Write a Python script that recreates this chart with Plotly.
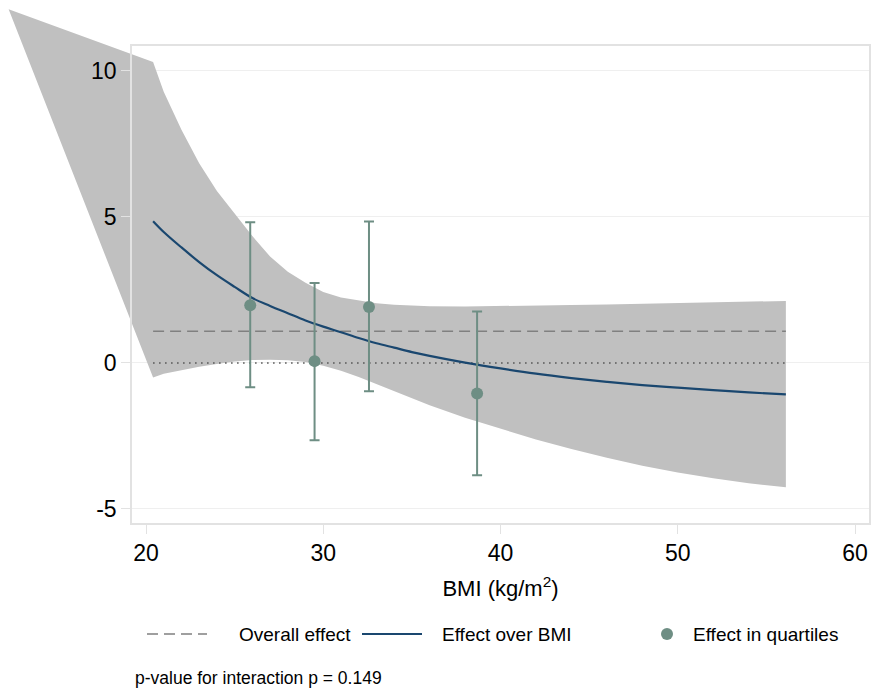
import plotly.graph_objects as go

# ---------------- data ----------------
bmi_grid = [20.4, 21, 22, 23, 24, 25, 26, 27, 28, 29, 30, 31, 32, 33, 34, 35, 36,
            38, 40, 42, 44, 46, 48, 50, 52, 54, 56.1]
ci_upper = [10.30, 9.28, 7.98, 6.83, 5.88, 5.11, 4.34, 3.64, 3.12, 2.74, 2.43, 2.24, 2.13,
            2.04, 1.99, 1.96, 1.94, 1.93, 1.94, 1.96, 1.98, 2.00, 2.03, 2.05, 2.07, 2.09, 2.12]
ci_lower = [-0.50, -0.37, -0.24, -0.13, -0.04, 0.05, 0.10, 0.11, 0.09, 0.03, -0.10, -0.27,
            -0.48, -0.72, -0.98, -1.22, -1.45, -1.88, -2.25, -2.62, -2.95, -3.25, -3.52,
            -3.75, -3.95, -4.12, -4.26]
effect_curve = [4.85, 4.48, 3.95, 3.45, 3.00, 2.60, 2.22, 1.95, 1.70, 1.45, 1.24, 1.05, 0.85,
                0.67, 0.52, 0.37, 0.24, 0.01, -0.19, -0.37, -0.52, -0.65, -0.76, -0.85,
                -0.93, -1.01, -1.08]
# stray vertex of the confidence band (drawn outside the plot region in the original)
band_spike_x = 12.25
band_spike_y = 12.1

overall_effect = 1.08

quartile_bmi = [25.88, 29.51, 32.58, 38.68]
quartile_effect = [1.97, 0.06, 1.91, -1.05]
quartile_lo = [-0.83, -2.65, -0.97, -3.85]
quartile_hi = [4.81, 2.73, 4.84, 1.76]

x_ticks = [20, 30, 40, 50, 60]
y_ticks = [-5, 0, 5, 10]
y_tick_labels = ["-5", "0", "5", "10"]
x_title = "BMI (kg/m<sup>2</sup>)"
legend_labels = ["Overall effect", "Effect over BMI", "Effect in quartiles"]
note_text = "p-value for interaction p = 0.149"

# ---------------- styling ----------------
W, H = 871, 697
FONT = "Liberation Sans, Arial, Helvetica, sans-serif"
BAND = "#c0c0c0"
NAVY = "#1a476f"
SEA = "#6e8e84"
DASHGRAY = "#808080"
FRAME = "#e2e2e2"
GRID = "#efefef"
DASH = "11px,6px"

# plot region in pixels
px_l, px_r, px_t, px_b = 132, 869, 46, 523
x_rng = [19.21, 60.79]
y_rng = [-5.48, 10.845]
xd = [px_l / W, px_r / W]
yd = [1 - px_b / H, 1 - px_t / H]

# full-figure axes aligned with the plot-region axes (lets the band spill out)
sx = (x_rng[1] - x_rng[0]) / (xd[1] - xd[0])
sy = (y_rng[1] - y_rng[0]) / (yd[1] - yd[0])
x2_rng = [x_rng[0] - xd[0] * sx, x_rng[1] + (1 - xd[1]) * sx]
y2_rng = [y_rng[0] - yd[0] * sy, y_rng[1] + (1 - yd[1]) * sy]

fig = go.Figure()

# invisible anchor trace so the grid subplot is drawn (bottom layer)
fig.add_trace(go.Scatter(x=[x_rng[0]], y=[y_rng[0]], mode="markers",
                         marker=dict(opacity=0), hoverinfo="skip", showlegend=False,
                         xaxis="x", yaxis="y"))

band_x = bmi_grid[::-1] + [band_spike_x] + bmi_grid
band_y = ci_upper[::-1] + [band_spike_y] + ci_lower
fig.add_trace(go.Scatter(x=band_x, y=band_y, fill="toself", fillcolor=BAND,
                         line=dict(width=0), mode="lines", hoverinfo="skip",
                         showlegend=False, xaxis="x2", yaxis="y2"))

fig.add_trace(go.Scatter(x=[bmi_grid[0], bmi_grid[-1]], y=[0, 0], mode="lines",
                         line=dict(color="#505050", width=1.5, dash="1.5px,4.5px"),
                         showlegend=False, xaxis="x2", yaxis="y2"))

fig.add_trace(go.Scatter(x=[bmi_grid[0], bmi_grid[-1]], y=[overall_effect, overall_effect],
                         mode="lines", line=dict(color=DASHGRAY, width=1.6, dash=DASH),
                         name=legend_labels[0], showlegend=False, xaxis="x2", yaxis="y2"))

fig.add_trace(go.Scatter(x=bmi_grid, y=effect_curve, mode="lines",
                         line=dict(color=NAVY, width=2.2, shape="spline"),
                         name=legend_labels[1], showlegend=False, xaxis="x2", yaxis="y2"))

fig.add_trace(go.Scatter(
    x=quartile_bmi, y=quartile_effect, mode="markers",
    marker=dict(color=SEA, size=12),
    error_y=dict(type="data", symmetric=False,
                 array=[h - e for h, e in zip(quartile_hi, quartile_effect)],
                 arrayminus=[e - l for e, l in zip(quartile_effect, quartile_lo)],
                 color=SEA, thickness=2, width=5),
    name=legend_labels[2], showlegend=False, xaxis="x2", yaxis="y2"))

# invisible anchor trace so the frame/tick subplot is drawn (top layer)
fig.add_trace(go.Scatter(x=[x_rng[0]], y=[y_rng[0]], mode="markers",
                         marker=dict(opacity=0), hoverinfo="skip", showlegend=False,
                         xaxis="x3", yaxis="y3"))

fig.update_layout(
    width=W, height=H, autosize=False,
    margin=dict(l=0, r=0, t=0, b=0),
    paper_bgcolor="white", plot_bgcolor="rgba(0,0,0,0)",
    font=dict(family=FONT, color="black"),
    showlegend=False,
    # layer 1: grid only
    xaxis=dict(domain=xd, range=x_rng, anchor="y", showgrid=False, showticklabels=False,
               ticks="", zeroline=False, showline=False),
    yaxis=dict(domain=yd, range=y_rng, anchor="x", tickvals=y_ticks, showgrid=True,
               gridcolor=GRID, gridwidth=1.2, showticklabels=False, ticks="",
               zeroline=False, showline=False),
    # layer 2: data
    xaxis2=dict(domain=[0, 1], range=x2_rng, anchor="y2", visible=False),
    yaxis2=dict(domain=[0, 1], range=y2_rng, anchor="x2", visible=False),
    # layer 3: frame, ticks, labels
    xaxis3=dict(domain=xd, range=x_rng, anchor="y3", tickvals=x_ticks, showgrid=False,
                zeroline=False, showline=True, mirror=True, linecolor=FRAME, linewidth=1.5,
                ticks="outside", ticklen=9, tickcolor=FRAME, tickwidth=1.2,
                tickfont=dict(size=23),
                title=dict(text=x_title, font=dict(size=22), standoff=15)),
    yaxis3=dict(domain=yd, range=y_rng, anchor="x3", tickvals=y_ticks,
                ticktext=y_tick_labels, showgrid=False,
                zeroline=False, showline=True, mirror=True, linecolor=FRAME, linewidth=1.5,
                ticks="outside", ticklen=9, tickcolor=FRAME, tickwidth=1.2,
                tickfont=dict(size=23)),
)

# manual legend (Stata-style layout) and note
def px(x):
    return x / W

def py(y):
    return 1 - y / H

leg_y = 634
shapes = [
    dict(type="line", xref="paper", yref="paper", x0=px(147), x1=px(207), y0=py(leg_y),
         y1=py(leg_y), line=dict(color=DASHGRAY, width=1.6, dash=DASH)),
    dict(type="line", xref="paper", yref="paper", x0=px(362), x1=px(422), y0=py(leg_y),
         y1=py(leg_y), line=dict(color=NAVY, width=2.2)),
    dict(type="circle", xref="paper", yref="paper", x0=px(661), x1=px(673),
         y0=py(leg_y + 6), y1=py(leg_y - 6), fillcolor=SEA, line=dict(width=0)),
]
fig.update_layout(shapes=shapes)

annotations = []
for text, xpos in zip(legend_labels, [237, 440, 691]):
    annotations.append(dict(text=text, x=px(xpos), y=py(leg_y), xref="paper", yref="paper",
                            xanchor="left", yanchor="middle", showarrow=False,
                            font=dict(size=19)))
annotations.append(dict(text=note_text, x=px(133), y=py(678), xref="paper", yref="paper",
                        xanchor="left", yanchor="middle", showarrow=False,
                        font=dict(size=17.5)))
fig.update_layout(annotations=annotations)

fig.write_html("out.html",
               config={"displayModeBar": False},
               post_script="document.body.style.margin='0px';"
                           "document.documentElement.style.overflow='hidden';")
